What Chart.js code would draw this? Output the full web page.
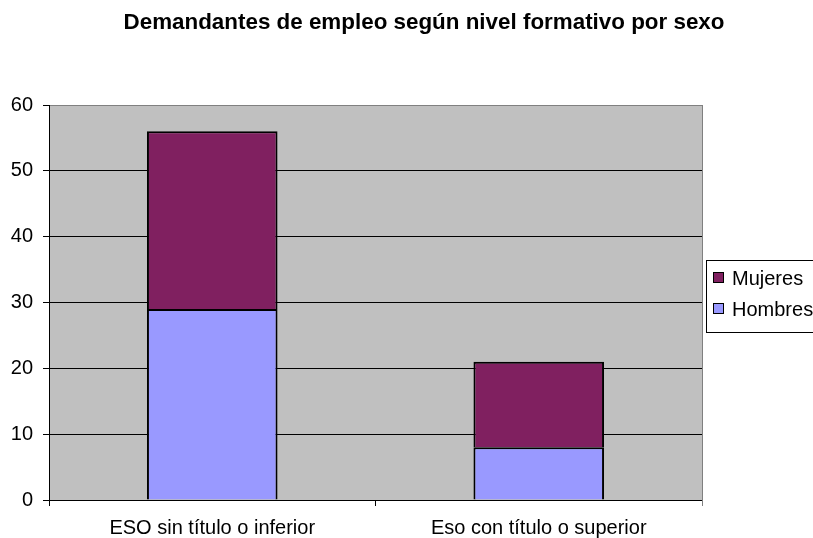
<!DOCTYPE html>
<html>
<head>
<meta charset="utf-8">
<script src="https://cdn.jsdelivr.net/npm/chart.js@4/dist/chart.umd.min.js"></script>
<style>
    html, body { margin: 0; padding: 0; background: #ffffff; }
    #wrap { width: 813px; height: 538px; }
</style>
</head>
<body>
<div id="wrap"><canvas id="chart" width="813" height="538"></canvas></div>
<script>
const chartTitle = 'Demandantes de empleo según nivel formativo por sexo';
const categories = ['ESO sin título o inferior', 'Eso con título o superior'];
const hombres = [29, 8];
const mujeres = [27, 13];
const yTicks = [0, 10, 20, 30, 40, 50, 60];

const FONT = '"Liberation Sans", Arial, sans-serif';

// plot background, plot frame, title and boxed legend
const decorations = {
    id: 'decorations',
    beforeDraw: (chart) => {
        const { ctx, chartArea } = chart;
        ctx.save();
        ctx.fillStyle = '#ffffff';
        ctx.fillRect(0, 0, chart.width, chart.height);
        ctx.fillStyle = '#c0c0c0';
        ctx.fillRect(chartArea.left, chartArea.top, chartArea.right - chartArea.left, chartArea.bottom - chartArea.top);
        ctx.restore();
    },
    afterDraw: (chart) => {
        const { ctx, chartArea } = chart;
        ctx.save();

        // grey frame on the right
        ctx.strokeStyle = '#808080';
        ctx.lineWidth = 1;
        ctx.beginPath();
        ctx.moveTo(Math.round(chartArea.right) + 0.5, chartArea.top);
        ctx.lineTo(Math.round(chartArea.right) + 0.5, chartArea.bottom + 6);
        ctx.stroke();

        // title
        ctx.fillStyle = '#000000';
        ctx.font = `bold 22.4px ${FONT}`;
        ctx.textAlign = 'center';
        ctx.textBaseline = 'alphabetic';
        ctx.fillText(chartTitle, 424, 29);

        // legend, top series first
        const lx = 706, ly = 260;
        ctx.strokeStyle = '#000000';
        ctx.strokeRect(lx + 0.5, ly + 0.5, 120, 72);
        const items = chart.data.datasets.slice().reverse();
        ctx.font = `20px ${FONT}`;
        ctx.textAlign = 'left';
        ctx.textBaseline = 'middle';
        items.forEach((ds, i) => {
            const cy = 278 + i * 31;
            ctx.fillStyle = ds.backgroundColor;
            ctx.fillRect(713, cy - 6, 11, 11);
            ctx.strokeRect(713.5, cy - 5.5, 10, 10);
            ctx.fillStyle = '#000000';
            ctx.fillText(ds.label, 732, cy + 1);
        });
        ctx.restore();
    }
};

const ctx = document.getElementById('chart').getContext('2d');

new Chart(ctx, {
    type: 'bar',
    data: {
        labels: categories,
        datasets: [
            {
                label: 'Hombres',
                data: hombres,
                backgroundColor: '#9999ff',
                borderColor: '#000000',
                borderWidth: 2
            },
            {
                label: 'Mujeres',
                data: mujeres,
                backgroundColor: '#802060',
                borderColor: '#000000',
                borderWidth: 2
            }
        ]
    },
    options: {
        responsive: false,
        animation: false,
        layout: {
            padding: { top: 105, right: 111, left: 0, bottom: 0 }
        },
        datasets: {
            bar: {
                categoryPercentage: 1.0,
                barPercentage: 0.4
            }
        },
        plugins: {
            legend: { display: false },
            title: { display: false },
            tooltip: { enabled: false }
        },
        scales: {
            x: {
                stacked: true,
                afterFit: (scale) => { scale.height = 38; },
                grid: {
                    offset: true,
                    drawOnChartArea: false,
                    drawTicks: true,
                    tickLength: 6,
                    color: '#000000'
                },
                border: { display: true, color: '#000000', width: 1 },
                ticks: {
                    color: '#000000',
                    padding: 10,
                    maxRotation: 0,
                    font: { family: FONT, size: 20 }
                }
            },
            y: {
                stacked: true,
                min: 0,
                max: 60,
                afterFit: (scale) => { scale.width = 49; },
                afterBuildTicks: (scale) => {
                    scale.ticks = yTicks.map(v => ({ value: v }));
                },
                grid: {
                    color: (c) => (c.tick && c.tick.value === 60 ? '#808080' : '#000000'),
                    tickColor: '#000000',
                    tickLength: 6,
                    lineWidth: 1
                },
                border: { display: true, color: '#000000', width: 1 },
                ticks: {
                    color: '#000000',
                    padding: 10,
                    font: { family: FONT, size: 20 }
                }
            }
        }
    },
    plugins: [decorations]
});
</script>
</body>
</html>
